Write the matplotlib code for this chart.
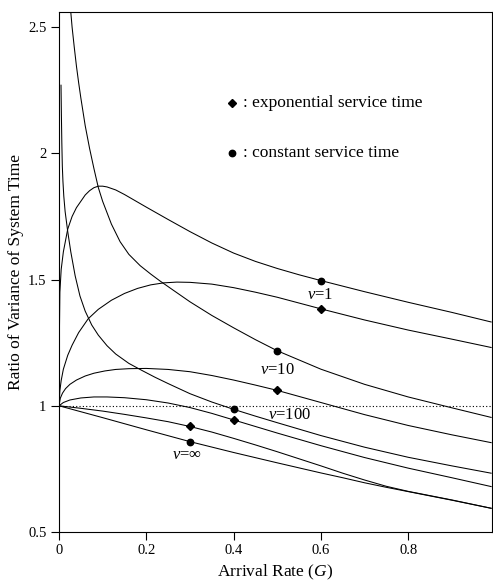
import numpy as np
import matplotlib
matplotlib.use('Agg')
import matplotlib.pyplot as plt
from matplotlib.ticker import FuncFormatter

plt.rcParams['font.family'] = ['Liberation Serif', 'DejaVu Serif']
plt.rcParams['mathtext.fontset'] = 'custom'
plt.rcParams['mathtext.rm'] = 'Liberation Serif'
plt.rcParams['mathtext.it'] = 'Liberation Serif:italic'

# v=1, constant service time (hump peaking near 1.87)
v1_const_x = [0, 0.001, 0.002, 0.005, 0.01, 0.02, 0.03, 0.04, 0.048, 0.06, 0.07, 0.08, 0.09, 0.1,
              0.11, 0.13, 0.15, 0.2, 0.25, 0.3, 0.35, 0.4, 0.45, 0.5, 0.55, 0.6, 0.65, 0.7,
              0.8, 0.9, 0.99]
v1_const_y = [1.0, 1.3, 1.45, 1.54, 1.61, 1.70, 1.75, 1.785, 1.805, 1.835, 1.852, 1.864, 1.87, 1.870,
              1.867, 1.855, 1.837, 1.787, 1.738, 1.69, 1.645, 1.605, 1.572, 1.544, 1.519, 1.496, 1.474, 1.452,
              1.41, 1.37, 1.332]

# v=1, exponential service time (hump peaking near 1.49)
v1_exp_x = [0, 0.002, 0.005, 0.01, 0.02, 0.03, 0.045, 0.067, 0.09, 0.12, 0.15, 0.18, 0.21, 0.24,
            0.27, 0.3, 0.35, 0.4, 0.45, 0.5, 0.55, 0.6, 0.65, 0.7, 0.8, 0.9, 0.99]
v1_exp_y = [1.0, 1.06, 1.10, 1.145, 1.20, 1.24, 1.29, 1.345, 1.382, 1.418, 1.445, 1.465, 1.479, 1.487,
            1.49, 1.489, 1.482, 1.468, 1.45, 1.43, 1.407, 1.384, 1.362, 1.34, 1.30, 1.264, 1.231]

# v=10, constant service time (falls from the top)
v10_const_x = [0.027, 0.03, 0.035, 0.04, 0.045, 0.05, 0.06, 0.07, 0.08, 0.09, 0.1, 0.12, 0.14,
               0.16, 0.186, 0.21, 0.231, 0.26, 0.3, 0.35, 0.4, 0.45, 0.5, 0.6, 0.7, 0.8, 0.9, 0.99]
v10_const_y = [2.56, 2.50, 2.42, 2.345, 2.28, 2.22, 2.11, 2.02, 1.94, 1.865, 1.81, 1.72, 1.65,
               1.60, 1.555, 1.522, 1.495, 1.46, 1.412, 1.358, 1.309, 1.262, 1.218, 1.145, 1.085, 1.035, 0.992, 0.954]

# v=10, exponential service time
v10_exp_x = [0, 0.003, 0.008, 0.015, 0.025, 0.04, 0.06, 0.08, 0.105, 0.13, 0.16, 0.2, 0.25, 0.3,
             0.35, 0.4, 0.45, 0.5, 0.55, 0.6, 0.7, 0.8, 0.9, 0.99]
v10_exp_y = [1.0, 1.03, 1.05, 1.068, 1.085, 1.102, 1.118, 1.129, 1.138, 1.144, 1.147, 1.148, 1.144, 1.135,
             1.12, 1.102, 1.082, 1.061, 1.037, 1.013, 0.965, 0.922, 0.885, 0.854]

# v=100, constant service time (starts near 2.27)
v100_const_x = [0.0046, 0.0055, 0.0065, 0.0076, 0.009, 0.011, 0.014, 0.02, 0.027, 0.037, 0.048,
                0.06, 0.075, 0.09, 0.11, 0.13, 0.16, 0.19, 0.22, 0.25, 0.3, 0.35, 0.4, 0.45,
                0.5, 0.6, 0.7, 0.8, 0.9, 0.99]
v100_const_y = [2.27, 2.15, 2.04, 1.95, 1.89, 1.83, 1.77, 1.69, 1.61, 1.515, 1.435,
                1.375, 1.32, 1.28, 1.238, 1.205, 1.168, 1.14, 1.113, 1.088, 1.048, 1.015, 0.986, 0.959,
                0.933, 0.882, 0.836, 0.796, 0.762, 0.733]

# v=100, exponential service time
v100_exp_x = [0, 0.01, 0.025, 0.05, 0.08, 0.11, 0.15, 0.2, 0.25, 0.3, 0.35, 0.4, 0.45, 0.5,
              0.6, 0.7, 0.8, 0.9, 0.99]
v100_exp_y = [1.0, 1.013, 1.023, 1.031, 1.035, 1.035, 1.032, 1.024, 1.011, 0.993, 0.97, 0.944, 0.918, 0.892,
              0.842, 0.795, 0.753, 0.715, 0.680]

# v=inf, upper and lower lines
vinf_a_x = [0, 0.05, 0.1, 0.15, 0.2, 0.25, 0.3, 0.35, 0.4, 0.45, 0.5, 0.55, 0.6, 0.65, 0.7, 0.75,
            0.8, 0.9, 0.99]
vinf_a_y = [1.0, 0.99, 0.979, 0.966, 0.952, 0.937, 0.918, 0.896, 0.871, 0.845, 0.818, 0.79, 0.762, 0.733,
            0.706, 0.681, 0.661, 0.627, 0.594]
vinf_b_x = [0, 0.1, 0.2, 0.3, 0.4, 0.5, 0.6, 0.65, 0.7, 0.75, 0.8, 0.9, 0.99]
vinf_b_y = [1.0, 0.953, 0.905, 0.858, 0.815, 0.774, 0.734, 0.715, 0.695, 0.677, 0.66, 0.626, 0.594]

# markers on the curves
diamond_x = [0.6, 0.5, 0.4, 0.3]
diamond_y = [1.384, 1.061, 0.944, 0.918]
circle_x = [0.6, 0.5, 0.4, 0.3]
circle_y = [1.496, 1.218, 0.986, 0.858]

curve_labels = ['$v$=1', '$v$=10', '$v$=100', '$v$=∞']
label_x = [0.598, 0.50, 0.529, 0.293]
label_y = [1.44, 1.143, 0.964, 0.806]

fig = plt.figure(figsize=(4.93, 5.84), dpi=100)
ax = fig.add_axes([59/493, 52/584, 433/493, 520/584])

curves = [(v1_const_x, v1_const_y), (v1_exp_x, v1_exp_y),
          (v10_const_x, v10_const_y), (v10_exp_x, v10_exp_y),
          (v100_const_x, v100_const_y), (v100_exp_x, v100_exp_y),
          (vinf_a_x, vinf_a_y), (vinf_b_x, vinf_b_y)]
for cx, cy in curves:
    ax.plot(cx, cy, color='black', lw=0.75)

ax.axhline(1.0, color='black', lw=0.8, ls=(0, (1, 2)))

ax.plot(diamond_x, diamond_y, 'D', color='black', ms=4.2, zorder=5)
ax.plot(circle_x, circle_y, 'o', color='black', ms=4.6, zorder=5)

for t, lx, ly in zip(curve_labels, label_x, label_y):
    ax.text(lx, ly, t, ha='center', va='center', fontsize=12)

# legend written inside the plot
ax.plot([0.396], [2.198], 'D', color='black', ms=4.2)
ax.plot([0.396], [2.0], 'o', color='black', ms=4.6)
ax.text(0.421, 2.198, ': exponential service time', va='center', fontsize=12.5)
ax.text(0.421, 2.0, ': constant service time', va='center', fontsize=12.5)

ax.set_xlim(0, 0.992)
ax.set_ylim(0.5, 2.56)
ax.set_xticks([0, 0.2, 0.4, 0.6, 0.8])
ax.set_yticks([0.5, 1, 1.5, 2, 2.5])
ax.xaxis.set_major_formatter(FuncFormatter(lambda v, p: '%g' % v))
ax.yaxis.set_major_formatter(FuncFormatter(lambda v, p: '%g' % v))
ax.tick_params(direction='out', length=6, width=0.8, labelsize=10.5, pad=3)
for s in ax.spines.values():
    s.set_linewidth(0.8)

ax.set_xlabel('Arrival Rate ($G$)', fontsize=12.5, labelpad=4)
ax.set_ylabel('Ratio of Variance of System Time', fontsize=12.5, labelpad=3)

fig.savefig('out.png', dpi=100)
